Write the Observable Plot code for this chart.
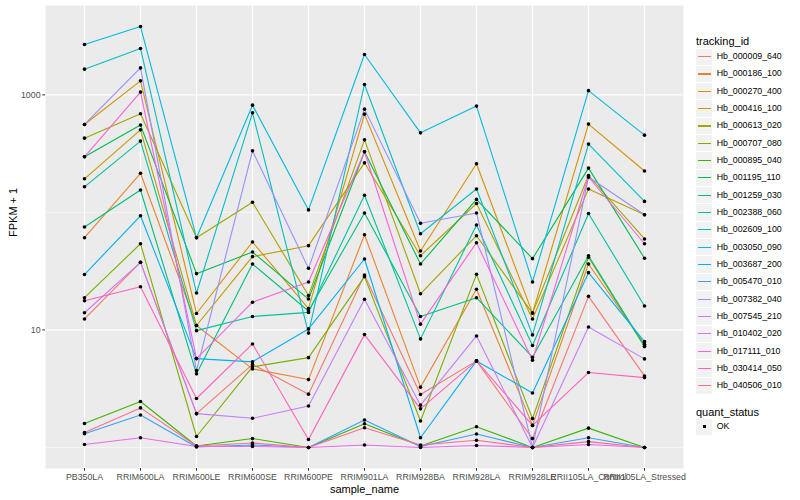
<!DOCTYPE html>
<html><head><meta charset="utf-8">
<script src="https://cdn.jsdelivr.net/npm/d3@7"></script>
<script src="https://cdn.jsdelivr.net/npm/@observablehq/plot@0.6"></script>
<style>
body{margin:0;background:#fff;font-family:"Liberation Sans",Arial,Helvetica,sans-serif;}
#wrap{position:relative;width:800px;height:500px;overflow:hidden;}
#chart{position:absolute;left:0;top:0;}
#legend{position:absolute;left:696px;top:0;width:104px;height:500px;font-size:8.8px;color:#000;}
.ttl{position:absolute;left:0;font-size:11px;line-height:12px;white-space:nowrap;}
.row{position:absolute;left:0;height:17.28px;width:104px;}
.key{position:absolute;left:0;top:0.5px;width:16.3px;height:16.3px;background:#F2F2F2;}
.ln{position:absolute;left:1.7px;width:13px;top:7.6px;height:1.1px;}
.lab{position:absolute;left:20.7px;top:0;line-height:17.28px;white-space:nowrap;}
.pt{position:absolute;left:6.6px;top:6.6px;width:3.2px;height:3.2px;background:#000;}
</style></head><body>
<div id="wrap"><div id="chart"></div><div id="legend"></div></div>
<script>
const samples = ["PB350LA","RRIM600LA","RRIM600LE","RRIM600SE","RRIM600PE","RRIM901LA","RRIM928BA","RRIM928LA","RRIM928LE","RRII105LA_Control","RRII105LA_Stressed"];
const trackingIds = ["Hb_000009_640","Hb_000186_100","Hb_000270_400","Hb_000416_100","Hb_000613_020","Hb_000707_080","Hb_000895_040","Hb_001195_110","Hb_001259_030","Hb_002388_060","Hb_002609_100","Hb_003050_090","Hb_003687_200","Hb_005470_010","Hb_007382_040","Hb_007545_210","Hb_010402_020","Hb_017111_010","Hb_030414_050","Hb_040506_010"];
const hueColors = ["#F8766D","#EA8331","#D89000","#C09B00","#A3A500","#7CAE00","#39B600","#00BB4E","#00BF7D","#00C1A3","#00BFC4","#00BAE0","#00B0F6","#35A2FF","#9590FF","#C77CFF","#E76BF3","#FA62DB","#FF62BC","#FF6C91"];
const yTickLabels = [10, 1000];

// FPKM + 1 per sample (same order as samples)
const hb_000009_640 = [12.4, 37.6, 1.94, 5.09, 2.84, 29.3, 2.82, 5.45, 1.19, 19.3, 4.06];
const hb_000186_100 = [60.9, 215, 10.9, 4.66, 3.78, 64.6, 3.26, 22.2, 1.54, 36.4, 7.56];
const hb_000270_400 = [560, 1315, 13.8, 56.0, 15.2, 685, 46.9, 259, 13.9, 564, 225];
const hb_000416_100 = [193, 504, 10.9, 42.0, 52.1, 264, 42.8, 119, 12.4, 158, 95.5];
const hb_000613_020 = [428, 690, 60.9, 122, 19.6, 414, 20.3, 63.3, 13.9, 206, 59.4];
const hb_000707_080 = [18.8, 54.1, 1.24, 4.85, 5.81, 28.4, 1.68, 29.7, 1.76, 41.5, 7.21];
const hb_000895_040 = [1.60, 2.46, 1.03, 1.19, 1.0, 1.59, 1.03, 1.50, 1.0, 1.46, 1.0];
const hb_001195_110 = [297, 553, 30.1, 46.0, 18.3, 328, 36.4, 129, 40.4, 238, 40.7];
const hb_001259_030 = [75.1, 155, 4.23, 36.4, 14.5, 98.7, 13.0, 18.8, 5.86, 42.8, 7.3];
const hb_002388_060 = [165, 404, 9.86, 13.0, 14.1, 140, 8.39, 78.1, 7.36, 97.8, 16.0];
const hb_002609_100 = [1654, 2480, 20.6, 703, 9.4, 1226, 65.8, 158, 9.07, 381, 124];
const hb_003050_090 = [2680, 3812, 60.9, 817, 105, 2205, 475, 802, 25.6, 1086, 454];
const hb_003687_200 = [29.6, 93.6, 5.70, 5.35, 10.2, 40.1, 1.21, 5.45, 2.91, 30.7, 7.95];
const hb_005470_010 = [1.31, 1.89, 1.01, 1.05, 1.0, 1.71, 1.02, 1.30, 1.0, 1.21, 1.0];
const hb_007382_040 = [560, 1696, 4.51, 334, 33.4, 756, 80.7, 98.7, 1.0, 200, 95.5];
const hb_007545_210 = [14.0, 37.6, 1.94, 1.77, 2.25, 18.2, 2.29, 8.89, 1.0, 10.6, 5.67];
const hb_010402_020 = [1.06, 1.21, 1.02, 1.02, 1.0, 1.05, 1.0, 1.04, 1.0, 1.06, 1.0];
const hb_017111_010 = [297, 1055, 5.70, 17.2, 25.6, 328, 11.2, 55.2, 5.53, 200, 54.1];
const hb_030414_050 = [17.7, 23.3, 2.61, 7.60, 1.17, 9.12, 2.13, 5.45, 1.54, 4.34, 3.93];
const hb_040506_010 = [1.34, 2.17, 1.03, 1.09, 1.0, 1.47, 1.05, 1.15, 1.0, 1.12, 1.0];

const seriesValues = [hb_000009_640, hb_000186_100, hb_000270_400, hb_000416_100, hb_000613_020, hb_000707_080, hb_000895_040, hb_001195_110, hb_001259_030, hb_002388_060, hb_002609_100, hb_003050_090, hb_003687_200, hb_005470_010, hb_007382_040, hb_007545_210, hb_010402_020, hb_017111_010, hb_030414_050, hb_040506_010];

const rows = [];
seriesValues.forEach((vals, i) => vals.forEach((v, j) => rows.push({tracking_id: trackingIds[i], sample_name: samples[j], fpkm: v, quant_status: "OK"})));

const ext = d3.extent(rows, d => Math.log10(d.fpkm));
const pad = (ext[1] - ext[0]) * 0.05;
const yDomain = [Math.pow(10, ext[0] - pad), Math.pow(10, ext[1] + pad)];

const chart = Plot.plot({
  width: 690, height: 500,
  marginLeft: 45, marginRight: 7, marginTop: 5, marginBottom: 32,
  style: {fontFamily: "'Liberation Sans', Arial, Helvetica, sans-serif", background: "white", overflow: "visible"},
  x: {type: "point", domain: samples, padding: 0.6, axis: null},
  y: {type: "log", domain: yDomain, axis: null},
  color: {domain: trackingIds, range: hueColors},
  marks: [
    Plot.frame({fill: "#EBEBEB", stroke: null}),
    Plot.gridY([1, 100], {stroke: "white", strokeOpacity: 1, strokeWidth: 0.55}),
    Plot.gridY(yTickLabels, {stroke: "white", strokeOpacity: 1, strokeWidth: 1.1}),
    Plot.gridX(samples, {stroke: "white", strokeOpacity: 1, strokeWidth: 1.1}),
    Plot.axisY(yTickLabels, {tickFormat: d => String(d), tickSize: 2.75, tickPadding: 2.2, fontSize: 8.8, fill: "#4D4D4D", stroke: "#333333", label: null}),
    Plot.axisX(samples, {tickSize: 2.75, tickPadding: 2.2, fontSize: 8.8, fill: "#4D4D4D", stroke: "#333333", label: null}),
    Plot.line(rows, {x: "sample_name", y: "fpkm", z: "tracking_id", stroke: "tracking_id", strokeWidth: 1.1}),
    Plot.dot(rows, {x: "sample_name", y: "fpkm", fill: "black", r: 1.8}),
    Plot.text(["FPKM + 1"], {text: d => d, frameAnchor: "left", dx: -32, rotate: -90, fontSize: 11, fill: "black"}),
    Plot.text(["sample_name"], {text: d => d, frameAnchor: "bottom", dy: 24, fontSize: 11, fill: "black"})
  ]
});
document.getElementById("chart").appendChild(chart);

// legend
const leg = document.getElementById("legend");
const t1 = document.createElement("div"); t1.className = "ttl"; t1.style.top = "34.5px"; t1.textContent = "tracking_id"; leg.appendChild(t1);
trackingIds.forEach((id, i) => {
  const r = document.createElement("div"); r.className = "row"; r.style.top = (48 + i * 17.33) + "px";
  r.innerHTML = `<div class="key"><div class="ln" style="background:${hueColors[i]}"></div></div><div class="lab">${id}</div>`;
  leg.appendChild(r);
});
const t2 = document.createElement("div"); t2.className = "ttl"; t2.style.top = "406px"; t2.textContent = "quant_status"; leg.appendChild(t2);
const r2 = document.createElement("div"); r2.className = "row"; r2.style.top = "418px";
r2.innerHTML = `<div class="key"><div class="pt"></div></div><div class="lab">OK</div>`;
leg.appendChild(r2);
</script>
</body></html>
